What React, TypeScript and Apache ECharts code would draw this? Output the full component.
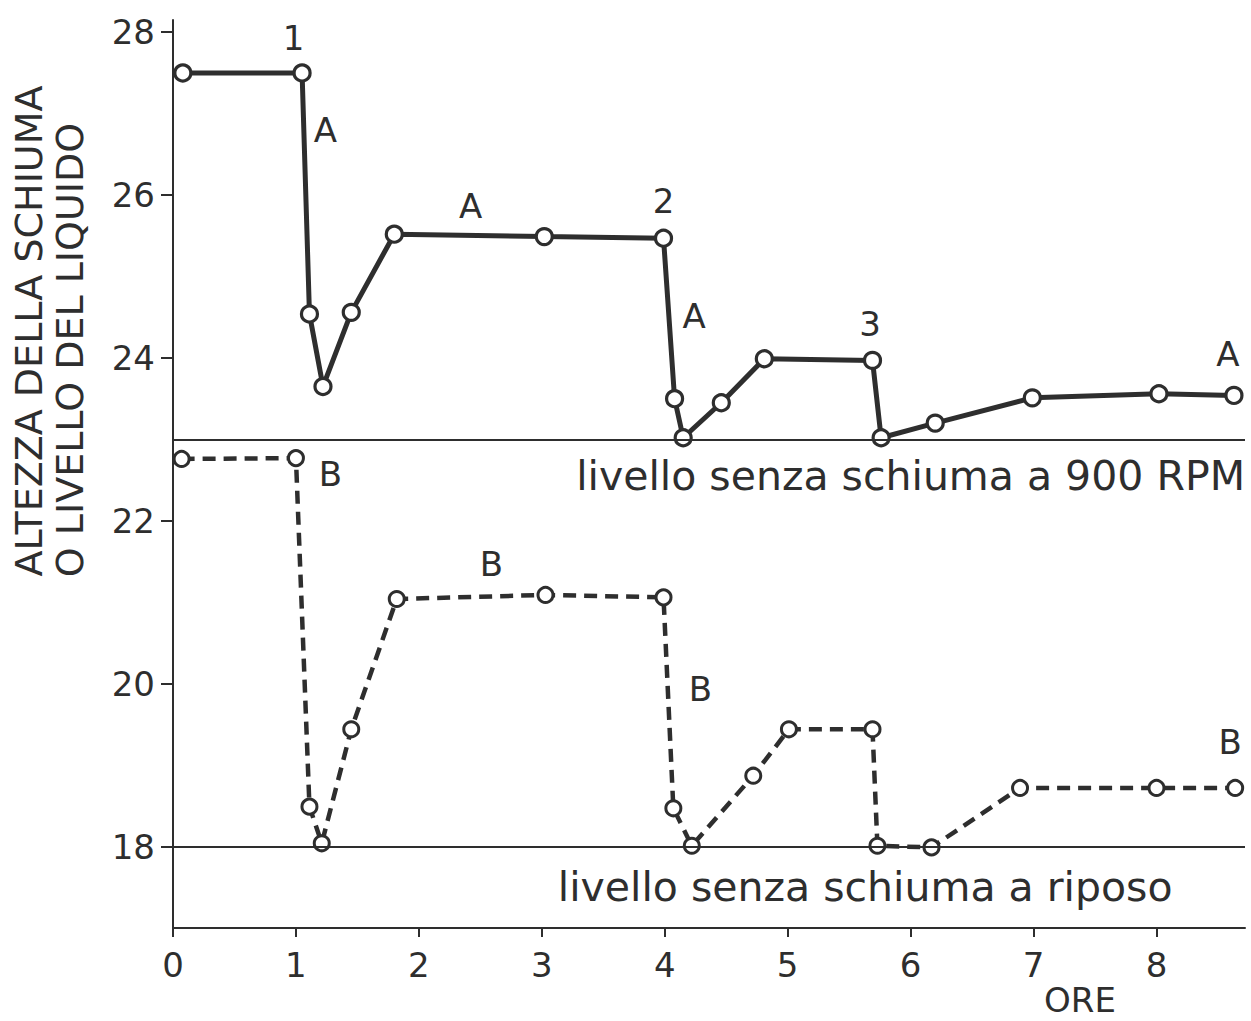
import React, { useEffect, useRef } from "react";
import * as echarts from "echarts";

// Curve A (solid): foam height at 900 RPM
const hoursA = [0.08, 1.05, 1.11, 1.22, 1.45, 1.8, 3.02, 3.99, 4.08, 4.15, 4.46, 4.81, 5.69, 5.76, 6.2, 6.99, 8.02, 8.63];
const levelA = [27.5, 27.5, 24.54, 23.65, 24.56, 25.52, 25.49, 25.47, 23.5, 23.02, 23.45, 23.99, 23.97, 23.02, 23.2, 23.51, 23.56, 23.54];

// Curve B (dashed): level at rest
const hoursB = [0.07, 1.0, 1.11, 1.21, 1.45, 1.82, 3.03, 3.99, 4.07, 4.22, 4.72, 5.01, 5.69, 5.73, 6.17, 6.89, 8.0, 8.64];
const levelB = [22.76, 22.77, 18.49, 18.04, 19.44, 21.04, 21.09, 21.06, 18.47, 18.01, 18.87, 19.44, 19.44, 18.01, 17.99, 18.72, 18.72, 18.72];

// Axes
const xTicks = [0, 1, 2, 3, 4, 5, 6, 7, 8];
const yTicks = [18, 20, 22, 24, 26, 28];
const xMin = 0;
const xMax = 8.72;
const yMin = 17;
const yMax = 28.15;

// Reference levels and their captions
const referenceLevels = [23, 18];
const referenceTexts = ["livello senza schiuma a 900 RPM", "livello senza schiuma a riposo"];
const referenceTextHours = [8.72, 3.13];
const referenceTextLevels = [22.55, 17.5];

// Curve annotations
const noteTexts = ["1", "A", "A", "2", "A", "3", "A", "B", "B", "B", "B"];
const noteHours = [0.98, 1.24, 2.42, 3.99, 4.24, 5.67, 8.58, 1.28, 2.59, 4.29, 8.6];
const noteLevels = [27.93, 26.8, 25.87, 25.93, 24.52, 24.42, 24.05, 22.58, 21.47, 19.94, 19.29];

const yTitleLines = ["ALTEZZA DELLA SCHIUMA", "O LIVELLO DEL LIQUIDO"];
const xTitle = "ORE";

const INK = "#2e2e2e";
const FONT = "DejaVu Sans";

export default function App() {
  const ref = useRef<HTMLDivElement>(null);

  useEffect(() => {
    if (!ref.current) return;
    const chart = echarts.init(ref.current, undefined, { renderer: "svg" });

    const zip = (xs: number[], ys: number[]) => xs.map((x, i) => [x, ys[i]]);

    const option: any = {
      animation: false,
      backgroundColor: "#ffffff",
      grid: { left: 173, right: 6, top: 20, bottom: 93, containLabel: false },
      xAxis: {
        type: "value",
        min: xMin,
        max: xMax,
        axisLine: { show: true, lineStyle: { color: INK, width: 2 } },
        axisTick: { show: true, customValues: xTicks, length: 9, lineStyle: { color: INK, width: 2 } },
        axisLabel: { customValues: xTicks, margin: 20, fontSize: 34, color: INK, fontFamily: FONT },
        splitLine: { show: false },
      },
      yAxis: {
        type: "value",
        min: yMin,
        max: yMax,
        axisLine: { show: true, onZero: false, lineStyle: { color: INK, width: 2 } },
        axisTick: { show: true, customValues: yTicks, length: 12, lineStyle: { color: INK, width: 2 } },
        axisLabel: { customValues: yTicks, margin: 18, fontSize: 34, color: INK, fontFamily: FONT },
        splitLine: { show: false },
      },
      graphic: [
        {
          type: "text",
          x: 29,
          y: 331,
          rotation: Math.PI / 2,
          style: {
            text: yTitleLines[0],
            fontSize: 38,
            fontFamily: FONT,
            fill: INK,
            align: "center",
            verticalAlign: "middle",
          },
        },
        {
          type: "text",
          x: 70,
          y: 350,
          rotation: Math.PI / 2,
          style: {
            text: yTitleLines[1],
            fontSize: 38,
            fontFamily: FONT,
            fill: INK,
            align: "center",
            verticalAlign: "middle",
          },
        },
        {
          type: "text",
          x: 1080,
          y: 1000,
          style: {
            text: xTitle,
            fontSize: 34,
            fontFamily: FONT,
            fill: INK,
            align: "center",
            verticalAlign: "middle",
          },
        },
      ],
      series: [
        {
          type: "line",
          name: "riferimento",
          data: [],
          silent: true,
          markLine: {
            silent: true,
            symbol: "none",
            label: { show: false },
            lineStyle: { color: INK, width: 2, type: "solid" },
            data: referenceLevels.map((v) => ({ yAxis: v })),
          },
        },
        {
          type: "line",
          name: "A",
          data: zip(hoursA, levelA),
          symbol: "circle",
          symbolSize: 16,
          lineStyle: { color: INK, width: 5 },
          itemStyle: { color: "#ffffff", borderColor: INK, borderWidth: 3.2 },
          z: 3,
        },
        {
          type: "line",
          name: "B",
          data: zip(hoursB, levelB),
          symbol: "circle",
          symbolSize: 15,
          lineStyle: { color: INK, width: 4.5, type: [13, 8] },
          itemStyle: { color: "#ffffff", borderColor: INK, borderWidth: 3 },
          z: 3,
        },
        {
          type: "scatter",
          name: "note",
          symbolSize: 0,
          silent: true,
          itemStyle: { opacity: 1 },
          data: noteTexts.map((t, i) => ({ name: t, value: [noteHours[i], noteLevels[i]] })),
          label: {
            show: true,
            position: "inside",
            formatter: (p: any) => p.name,
            fontSize: 34,
            fontFamily: FONT,
            color: INK,
            opacity: 1,
          },
          z: 4,
        },
        {
          type: "scatter",
          name: "didascalie",
          symbolSize: 0,
          silent: true,
          itemStyle: { opacity: 1 },
          data: referenceTexts.map((t, i) => ({
            name: t,
            value: [referenceTextHours[i], referenceTextLevels[i]],
            label: { align: i === 0 ? "right" : "left" },
          })),
          label: {
            show: true,
            position: "inside",
            formatter: (p: any) => p.name,
            fontSize: 41,
            fontFamily: FONT,
            color: INK,
            opacity: 1,
          },
          z: 4,
        },
      ],
    };

    chart.setOption(option);
    return () => chart.dispose();
  }, []);

  return (
    <div
      ref={ref}
      style={{ position: "absolute", left: 0, top: 0, width: 1251, height: 1021, background: "#fff" }}
    />
  );
}
